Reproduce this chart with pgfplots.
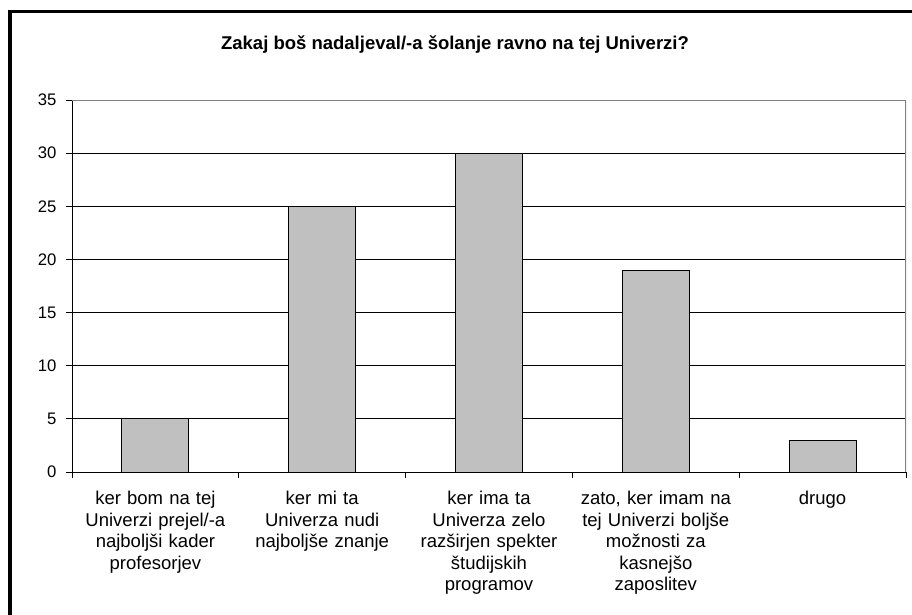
\documentclass[border=0pt]{standalone}
\usepackage{pgfplots}
\pgfplotsset{compat=1.18}
\usepackage{fontspec}
\setmainfont{Liberation Sans}
\definecolor{barfill}{HTML}{C0C0C0}
\definecolor{bordergray}{HTML}{808080}
\begin{document}
\begin{tikzpicture}[x=1pt,y=1pt]
\useasboundingbox (0,0) rectangle (912,-615);
\draw[line width=3.5pt] (10,-615) -- (10,-11.5) -- (912,-11.5);
\node[font=\fontsize{18.5}{22}\selectfont\bfseries] at (455,-45) {Zakaj boš nadaljeval/-a šolanje ravno na tej Univerzi?};
\begin{axis}[at={(72pt,-472pt)}, anchor=south west, scale only axis, width=834pt, height=372pt,
 ymin=0, ymax=35, ytick={0,5,...,35}, xmin=-0.5, xmax=4.5,
 axis lines*=left, axis line style={-, black, line width=0.9pt},
 ymajorgrids, grid style={black, line width=0.9pt},
 tick align=outside, major tick length=6pt, minor tick length=6pt,
 tick style={black, line width=0.9pt},
 xtick={0,...,4}, major x tick style={draw=none}, minor xtick={-0.5,0.5,...,4.5},
 /pgf/number format/assume math mode=true,
 yticklabel style={font=\fontsize{16.7}{19}\selectfont, xshift=-6pt},
 xticklabel style={font=\fontsize{18.5}{21.5}\selectfont, text width=168pt, align=center, anchor=north, yshift=-10pt},
 xticklabels={{ker bom na tej\\Univerzi prejel/-a\\najboljši kader\\profesorjev},
  {ker mi ta\\Univerza nudi\\najboljše znanje},
  {ker ima ta\\Univerza zelo\\razširjen spekter\\študijskih\\programov},
  {zato, ker imam na\\tej Univerzi boljše\\možnosti za\\kasnejšo\\zaposlitev},
  {drugo}},
]
\addplot[ybar, bar width=67pt, fill=barfill, draw=black, line width=0.9pt] coordinates {(0,5) (1,25) (2,30) (3,19) (4,3)};
\draw[bordergray, line width=1.5pt] (rel axis cs:0,1) -- (rel axis cs:1,1) -- (rel axis cs:1,0);
\end{axis}
\end{tikzpicture}
\end{document}
